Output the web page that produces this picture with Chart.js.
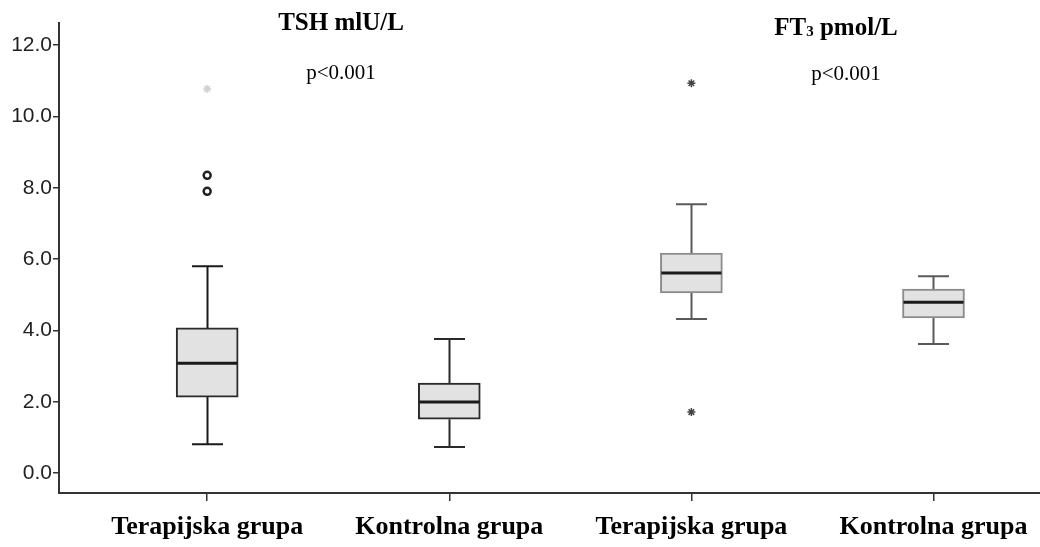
<!DOCTYPE html>
<html>
<head>
<meta charset="utf-8">
<script src="https://cdn.jsdelivr.net/npm/chart.js@4"></script>
<style>
  html, body { margin: 0; padding: 0; background: #fff; overflow: hidden; }
  #wrap { position: relative; width: 1040px; height: 547px; overflow: hidden; }
  .note { position: absolute; font-family: "Liberation Serif", "DejaVu Serif", serif; color: #000; white-space: nowrap; transform: translateX(-50%); }
  .title { font-weight: bold; font-size: 25px; }
  .p { font-size: 21px; }
  sub { font-size: 15px; vertical-align: baseline; position: relative; top: 1px; }
</style>
</head>
<body>
<div id="wrap">
  <canvas id="chart-1" width="1047" height="547"></canvas>
  <div class="note title" style="left:341px; top:8px;">TSH mlU/L</div>
  <div class="note p" style="left:341px; top:60px;">p&lt;0.001</div>
  <div class="note title" style="left:836px; top:13px;">FT<sub>3</sub> pmol/L</div>
  <div class="note p" style="left:846px; top:61px;">p&lt;0.001</div>
</div>
<script>
const groups = ['Terapijska grupa', 'Kontrolna grupa', 'Terapijska grupa', 'Kontrolna grupa'];
const whiskerLow = [0.81, 0.73, 4.32, 3.62];
const q1 = [2.13, 1.51, 5.05, 4.35];
const median = [3.08, 1.99, 5.61, 4.79];
const q3 = [4.07, 2.52, 6.17, 5.16];
const whiskerHigh = [5.80, 3.76, 7.54, 5.52];
const outliers = [[7.90, 8.35], [], [], []];
const extremes = [[10.77], [], [10.93, 1.71], []];
const yTicks = [0, 2, 4, 6, 8, 10, 12];

const boxLine = ['#2a2a2a', '#2a2a2a', '#8c8c8c', '#8c8c8c'];
const whiskerCol = ['#1a1a1a', '#2a2a2a', '#5a5a5a', '#5a5a5a'];
const extremeCol = ['#d0d0d0', '#555', '#444', '#444'];

const outlierPts = [];
outliers.forEach((arr, i) => arr.forEach(v => outlierPts.push({x: i, y: v})));
const extremePts = [];
const extremeColors = [];
extremes.forEach((arr, i) => arr.forEach(v => { extremePts.push({x: i, y: v}); extremeColors.push(extremeCol[i]); }));

// whiskers, caps and median drawn from the scales
const boxParts = {
    id: 'boxParts',
    beforeDatasetsDraw(chart) {
        const {ctx, scales: {x, y}} = chart;
        ctx.save();
        groups.forEach((g, i) => {
            const cx = Math.round(x.getPixelForValue(i)) + 0.5;
            const capHalf = 15.5;
            ctx.strokeStyle = whiskerCol[i];
            ctx.lineWidth = 2;
            ctx.beginPath();
            ctx.moveTo(cx, y.getPixelForValue(whiskerHigh[i]));
            ctx.lineTo(cx, y.getPixelForValue(q3[i]));
            ctx.moveTo(cx, y.getPixelForValue(q1[i]));
            ctx.lineTo(cx, y.getPixelForValue(whiskerLow[i]));
            ctx.moveTo(cx - capHalf, y.getPixelForValue(whiskerHigh[i]));
            ctx.lineTo(cx + capHalf, y.getPixelForValue(whiskerHigh[i]));
            ctx.moveTo(cx - capHalf, y.getPixelForValue(whiskerLow[i]));
            ctx.lineTo(cx + capHalf, y.getPixelForValue(whiskerLow[i]));
            ctx.stroke();
        });
        ctx.restore();
    },
    afterDatasetsDraw(chart) {
        const {ctx, scales: {x, y}} = chart;
        const meta = chart.getDatasetMeta(0);
        ctx.save();
        groups.forEach((g, i) => {
            const bar = meta.data[i];
            const half = bar.width / 2;
            const my = y.getPixelForValue(median[i]);
            ctx.strokeStyle = '#1a1a1a';
            ctx.lineWidth = 3;
            ctx.beginPath();
            ctx.moveTo(bar.x - half + 1, my);
            ctx.lineTo(bar.x + half - 1, my);
            ctx.stroke();
        });
        ctx.restore();
    }
};

const data = {
    datasets: [
        {
            type: 'bar',
            label: 'box',
            data: groups.map((g, i) => ({x: i, y: [q1[i], q3[i]]})),
            backgroundColor: '#e2e2e2',
            borderColor: boxLine,
            borderWidth: 2,
            borderSkipped: false,
            barThickness: 62,
            order: 2
        },
        {
            type: 'scatter',
            label: 'outliers',
            data: outlierPts,
            pointStyle: 'circle',
            pointRadius: 3.5,
            pointBorderWidth: 2.5,
            pointBorderColor: '#222',
            pointBackgroundColor: '#fff',
            order: 1
        },
        {
            type: 'scatter',
            label: 'extremes',
            data: extremePts,
            pointStyle: 'star',
            pointRadius: 4,
            pointBorderWidth: 1.5,
            pointBorderColor: extremeColors,
            pointBackgroundColor: extremeColors,
            order: 1
        }
    ]
};

const config = {
    type: 'bar',
    data: data,
    options: {
        responsive: false,
        animation: false,
        layout: {
            padding: {top: 23, left: 0, right: 0, bottom: 0}
        },
        plugins: {
            legend: {display: false},
            tooltip: {enabled: false}
        },
        scales: {
            x: {
                type: 'linear',
                offset: false,
                min: -0.612,
                max: 3.442,
                afterBuildTicks: (scale) => { scale.ticks = groups.map((g, i) => ({value: i})); },
                afterFit: (scale) => {
                    scale.height = 54;
                    scale.paddingLeft = 0;
                    scale.paddingRight = 0;
                },
                grid: {offset: false, drawOnChartArea: false, drawTicks: true, tickLength: 8, color: '#333', lineWidth: 1.5},
                border: {display: true, color: '#333', width: 2},
                ticks: {
                    callback: (v) => groups[v],
                    maxRotation: 0,
                    autoSkip: false,
                    padding: 11,
                    color: '#000',
                    font: {family: '"Liberation Serif", serif', size: 26, weight: 'bold'}
                }
            },
            y: {
                type: 'linear',
                min: -0.56,
                max: 12.62,
                afterBuildTicks: (scale) => { scale.ticks = yTicks.map(v => ({value: v})); },
                afterFit: (scale) => {
                    scale.width = 59;
                    scale.paddingTop = 0;
                    scale.paddingBottom = 0;
                },
                grid: {drawOnChartArea: false, drawTicks: true, tickLength: 6, color: '#333', lineWidth: 1.5},
                border: {display: true, color: '#333', width: 2},
                ticks: {
                    callback: (v) => v.toFixed(1),
                    padding: 1,
                    color: '#222',
                    font: {family: '"Liberation Sans", Arial, sans-serif', size: 21}
                }
            }
        }
    },
    plugins: [boxParts]
};

const ctx = document.getElementById('chart-1').getContext('2d');
new Chart(ctx, config);
</script>
</body>
</html>
